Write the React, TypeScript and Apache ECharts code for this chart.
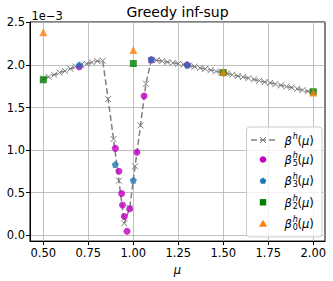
import React, { useEffect, useRef } from "react";
import * as echarts from "echarts";

// beta^h(mu) on the fine grid
const muGrid = [
  0.5, 0.53, 0.56, 0.59, 0.62, 0.65, 0.68, 0.71, 0.74, 0.77, 0.8, 0.83, 0.86, 0.89, 0.92, 0.95, 0.98,
  1.01, 1.04, 1.07, 1.1, 1.13, 1.16, 1.19, 1.22, 1.25, 1.28, 1.31, 1.34, 1.37, 1.4, 1.43, 1.46, 1.49,
  1.52, 1.55, 1.58, 1.61, 1.64, 1.67, 1.7, 1.73, 1.76, 1.79, 1.82, 1.85, 1.88, 1.91, 1.94, 1.97, 2.0,
];
const betaH = [
  1.84, 1.86, 1.885, 1.91, 1.93, 1.955, 1.98, 2.0, 2.015, 2.03, 2.045, 2.05, 1.6, 1.13, 0.64, 0.14, 0.32,
  0.81, 1.29, 1.78, 2.06, 2.055, 2.045, 2.035, 2.025, 2.015, 2.005, 1.995, 1.98, 1.965, 1.955, 1.94, 1.925, 1.91,
  1.9, 1.885, 1.87, 1.86, 1.845, 1.83, 1.815, 1.8, 1.79, 1.775, 1.76, 1.745, 1.735, 1.72, 1.705, 1.69, 1.68,
];

// beta^h_5
const mu5 = [0.7, 0.9, 0.92, 0.935, 0.94, 0.95, 0.965, 0.98, 1.02, 1.06, 1.1, 1.3];
const beta5 = [1.98, 1.02, 0.75, 0.49, 0.355, 0.22, 0.045, 0.31, 0.975, 1.635, 2.06, 2.0];
// beta^h_3
const mu3 = [0.7, 0.9, 1.0, 1.1, 1.3];
const beta3 = [2.0, 0.83, 0.645, 2.065, 2.0];
// beta^h_2
const mu2 = [0.5, 1.0, 1.5, 2.0];
const beta2 = [1.826, 2.017, 1.91, 1.685];
// beta^h_0
const mu0 = [0.5, 1.0, 1.5, 2.0];
const beta0 = [2.385, 2.177, 1.92, 1.677];

const xTicks = [0.5, 0.75, 1.0, 1.25, 1.5, 1.75, 2.0];
const yTicks = [0, 0.5, 1.0, 1.5, 2.0, 2.5];
const legendSubs = ["", "5", "3", "2", "0"];
const titleText = "Greedy inf-sup";
const scaleText = "1e\u22123";

const FONT = "DejaVu Sans";
const GRAY = "#808080";
const MAGENTA = "#bf00bf";
const BLUE = "#1f77b4";
const GREEN = "#008000";
const ORANGE = "#ff7f0e";
const PENTAGON = "path://M0,-1L0.951,-0.309L0.588,0.809L-0.588,0.809L-0.951,-0.309Z";
const XMARK = "path://M0,0L10,10M10,0L0,10";

const pair = (xs: number[], ys: number[]) => xs.map((x, i) => [x, ys[i]]);

export default function App() {
  const ref = useRef<HTMLDivElement>(null);
  useEffect(() => {
    if (!ref.current) return;
    const chart = echarts.init(ref.current, null, { renderer: "svg" });

    const rowY = [140, 159.5, 181, 202.3, 223.8];
    const mx = 263;
    const legendEls: any[] = [
      {
        type: "rect",
        shape: { x: 246.5, y: 127, width: 75.5, height: 110, r: 3 },
        style: { fill: "rgba(255,255,255,0.8)", stroke: "#cccccc", lineWidth: 1 },
        z: 100,
      },
      // line handle
      {
        type: "line",
        shape: { x1: 251, y1: rowY[0], x2: 275, y2: rowY[0] },
        style: { stroke: GRAY, lineWidth: 1.5, lineDash: [6, 3] },
        z: 101,
      },
      {
        type: "line",
        shape: { x1: mx - 3, y1: rowY[0] - 3, x2: mx + 3, y2: rowY[0] + 3 },
        style: { stroke: GRAY, lineWidth: 1 },
        z: 101,
      },
      {
        type: "line",
        shape: { x1: mx - 3, y1: rowY[0] + 3, x2: mx + 3, y2: rowY[0] - 3 },
        style: { stroke: GRAY, lineWidth: 1 },
        z: 101,
      },
      { type: "circle", shape: { cx: mx, cy: rowY[1], r: 3.3 }, style: { fill: MAGENTA }, z: 101 },
      {
        type: "polygon",
        shape: {
          points: [
            [mx, rowY[2] - 3.5],
            [mx + 3.33, rowY[2] - 1.08],
            [mx + 2.06, rowY[2] + 2.83],
            [mx - 2.06, rowY[2] + 2.83],
            [mx - 3.33, rowY[2] - 1.08],
          ],
        },
        style: { fill: BLUE },
        z: 101,
      },
      { type: "rect", shape: { x: mx - 3.2, y: rowY[3] - 3.2, width: 6.4, height: 6.4 }, style: { fill: GREEN }, z: 101 },
      {
        type: "polygon",
        shape: { points: [[mx, rowY[4] - 4], [mx + 4, rowY[4] + 3], [mx - 4, rowY[4] + 3]] },
        style: { fill: ORANGE },
        z: 101,
      },
    ];
    legendSubs.forEach((sub, i) => {
      const y = rowY[i] + (i === 0 ? 0.5 : 0.3);
      legendEls.push({
        type: "text",
        x: 284.5,
        y,
        style: { text: "\u03b2", font: `italic 11.5px '${FONT}'`, fill: "#000", verticalAlign: "middle", align: "left" },
        z: 102,
      });
      legendEls.push({
        type: "text",
        x: 292.8,
        y: y - 4.5,
        style: { text: "h", font: `italic 8px '${FONT}'`, fill: "#000", verticalAlign: "middle", align: "left" },
        z: 102,
      });
      if (sub) {
        legendEls.push({
          type: "text",
          x: 292.8,
          y: y + 3.5,
          style: { text: sub, font: `8px '${FONT}'`, fill: "#000", verticalAlign: "middle", align: "left" },
          z: 102,
        });
      }
      legendEls.push({
        type: "text",
        x: 297.5,
        y,
        style: {
          text: "{p|(}{m|\u03bc}{p|)}",
          verticalAlign: "middle",
          align: "left",
          rich: {
            p: { fontFamily: FONT, fontSize: 11.5, color: "#000" },
            m: { fontFamily: FONT, fontSize: 11.5, fontStyle: "italic", color: "#000" },
          },
        },
        z: 102,
      });
    });

    chart.setOption({
      animation: false,
      textStyle: { fontFamily: FONT },
      grid: {
        left: 30,
        top: 22,
        width: 295,
        height: 220,
        show: true,
        borderColor: "#000",
        borderWidth: 1,
        backgroundColor: "transparent",
        containLabel: false,
      },
      xAxis: {
        type: "value",
        min: 0.426,
        max: 2.065,
        name: "\u03bc",
        nameLocation: "middle",
        nameGap: 20,
        nameTextStyle: { fontFamily: FONT, fontSize: 11.5, fontStyle: "italic", color: "#000" },
        axisLine: { onZero: false, lineStyle: { color: "#000", width: 1 } },
        axisTick: { show: true, length: 4, customValues: xTicks, lineStyle: { color: "#000", width: 1 } },
        axisLabel: {
          customValues: xTicks,
          formatter: (v: number) => v.toFixed(2),
          fontSize: 11.5,
          fontFamily: FONT,
          color: "#000",
          margin: 6,
        },
        splitLine: { show: true, customValues: xTicks, lineStyle: { color: "#b0b0b0", width: 0.8 } },
      },
      yAxis: {
        type: "value",
        min: -0.07,
        max: 2.505,
        axisLine: { show: true, onZero: false, lineStyle: { color: "#000", width: 1 } },
        axisTick: { show: true, length: 4, customValues: yTicks, lineStyle: { color: "#000", width: 1 } },
        axisLabel: {
          customValues: yTicks,
          formatter: (v: number) => v.toFixed(1),
          fontSize: 11.5,
          fontFamily: FONT,
          color: "#000",
          margin: 5,
        },
        splitLine: { show: true, customValues: yTicks, lineStyle: { color: "#b0b0b0", width: 0.8 } },
      },
      series: [
        {
          type: "line",
          data: pair(muGrid, betaH),
          symbol: XMARK,
          symbolSize: 6,
          showSymbol: true,
          showAllSymbol: true,
          lineStyle: { color: GRAY, width: 1.5, type: [6, 3] },
          itemStyle: { color: GRAY, borderColor: GRAY, borderWidth: 1 },
          z: 2,
        },
        { type: "scatter", data: pair(mu5, beta5), symbol: "circle", symbolSize: 7, itemStyle: { color: MAGENTA }, z: 3 },
        { type: "scatter", data: pair(mu3, beta3), symbol: PENTAGON, symbolSize: 7, itemStyle: { color: BLUE }, z: 4 },
        { type: "scatter", data: pair(mu2, beta2), symbol: "rect", symbolSize: 7, itemStyle: { color: GREEN }, z: 5 },
        { type: "scatter", data: pair(mu0, beta0), symbol: "triangle", symbolSize: 8, itemStyle: { color: ORANGE }, z: 6 },
      ],
      graphic: [
        {
          type: "text",
          x: 177.5,
          y: 12,
          style: { text: titleText, font: `14px '${FONT}'`, fill: "#000", align: "center", verticalAlign: "middle" },
        },
        {
          type: "text",
          x: 31.5,
          y: 16,
          style: { text: scaleText, font: `11.5px '${FONT}'`, fill: "#000", align: "left", verticalAlign: "middle" },
        },
        ...legendEls,
      ],
    });
    return () => chart.dispose();
  }, []);
  return <div ref={ref} style={{ position: "fixed", left: 0, top: 0, width: 333, height: 281, background: "#fff" }} />;
}
